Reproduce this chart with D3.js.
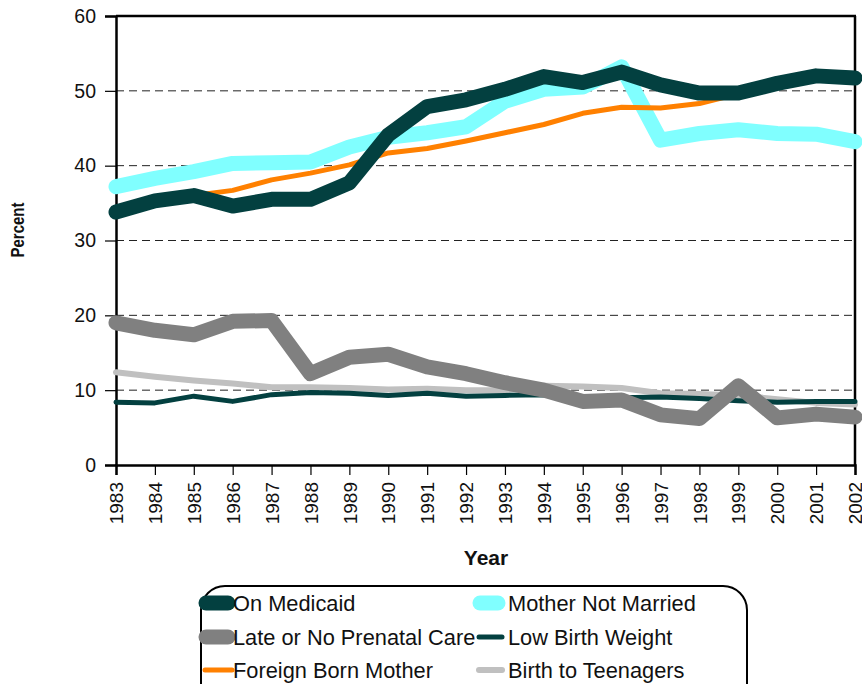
<!DOCTYPE html>
<html><head><meta charset="utf-8">
<script src="https://cdn.jsdelivr.net/npm/d3@7"></script>
<style>
html,body{margin:0;padding:0;background:#fff;}
svg{display:block;font-family:"Liberation Sans",Arial,sans-serif;}
</style></head>
<body>
<svg id="chart" width="862" height="684"></svg>
<script>
const years = [1983,1984,1985,1986,1987,1988,1989,1990,1991,1992,1993,1994,1995,1996,1997,1998,1999,2000,2001,2002];
const yTicks = [0,10,20,30,40,50,60];
const onMedicaid     = [33.8,35.3,36.0,34.6,35.5,35.5,37.7,44.1,47.9,48.8,50.2,51.9,51.1,52.5,50.8,49.7,49.7,51.0,52.0,51.7];
const notMarried     = [37.2,38.3,39.2,40.3,40.4,40.5,42.5,43.8,44.4,45.2,48.6,50.2,50.5,53.2,43.4,44.3,44.8,44.3,44.2,43.2];
const prenatal       = [19.0,18.0,17.4,19.2,19.3,12.2,14.4,14.8,13.1,12.2,11.0,10.0,8.5,8.7,6.7,6.2,10.6,6.3,6.8,6.4];
const lowBirthWeight = [8.4,8.3,9.2,8.5,9.4,9.7,9.6,9.3,9.6,9.2,9.3,9.4,9.1,9.0,9.1,8.9,8.6,8.4,8.5,8.5];
const foreignBorn    = [34.0,35.4,36.0,36.7,38.1,39.0,40.1,41.7,42.3,43.3,44.4,45.5,47.0,47.8,47.7,48.3,49.6,50.6,51.6,51.5];
const teenagers      = [12.4,11.8,11.3,10.9,10.4,10.4,10.3,10.1,10.2,10.0,10.0,10.6,10.5,10.3,9.6,9.5,9.3,8.8,8.3,8.1];
const seriesNames = ["On Medicaid","Mother Not Married","Late or No Prenatal Care","Low Birth Weight","Foreign Born Mother","Birth to Teenagers"];

const series = [
  {name:seriesNames[0], values:onMedicaid,     color:"#034040", width:15},
  {name:seriesNames[1], values:notMarried,     color:"#80ffff", width:15},
  {name:seriesNames[2], values:prenatal,       color:"#808080", width:15},
  {name:seriesNames[3], values:lowBirthWeight, color:"#034040", width:5},
  {name:seriesNames[4], values:foreignBorn,    color:"#ff8000", width:5},
  {name:seriesNames[5], values:teenagers,      color:"#c0c0c0", width:6}
];

const svg = d3.select("#chart");
const x = d3.scaleLinear().domain([1983,2002]).range([116,855]);
const y = d3.scaleLinear().domain([0,60]).range([465,16]);

// gridlines
svg.append("g").selectAll("line").data(yTicks.filter(t=>t>0 && t<60)).join("line")
  .attr("x1",x(1983)).attr("x2",x(2002)).attr("y1",d=>y(d)).attr("y2",d=>y(d))
  .attr("stroke","#222").attr("stroke-width",1).attr("stroke-dasharray","8,5");

// frame top and right
svg.append("line").attr("x1",x(1983)).attr("x2",x(2002)+1).attr("y1",y(60)).attr("y2",y(60)).attr("stroke","#000").attr("stroke-width",2.5);
svg.append("line").attr("x1",x(2002)).attr("x2",x(2002)).attr("y1",y(60)).attr("y2",y(0)).attr("stroke","#000").attr("stroke-width",2.5);

// axes
const yAxis = d3.axisLeft(y).tickValues(yTicks).tickSize(11).tickPadding(9).tickFormat(d3.format("d"));
const gy = svg.append("g").attr("transform",`translate(${x(1983)},0)`).call(yAxis);
gy.select(".domain").attr("stroke","#000").attr("stroke-width",2.5);
gy.selectAll(".tick line").attr("stroke","#000").attr("stroke-width",1.2);
gy.selectAll(".tick text").attr("font-size",19.5).attr("fill","#111").attr("font-family","Liberation Sans, Arial, sans-serif");

const xAxis = d3.axisBottom(x).tickValues(years).tickSize(10).tickFormat(d3.format("d"));
const gx = svg.append("g").attr("transform",`translate(0,${y(0)})`).call(xAxis);
gx.select(".domain").attr("stroke","#000").attr("stroke-width",2.5);
gx.selectAll(".tick line").attr("stroke","#000").attr("stroke-width",1.2);
gx.selectAll(".tick text").attr("font-size",19).attr("fill","#111").attr("font-family","Liberation Sans, Arial, sans-serif")
  .attr("text-anchor","end").attr("transform","translate(0,17) rotate(-90)").attr("x",0).attr("y",0).attr("dy","0.35em");

// lines (drawn so that thick dark is on top)
const drawOrder = [5,3,2,1,4,0];
const line = d3.line().x((d,i)=>x(years[i])).y(d=>y(d));
svg.append("g").selectAll("path").data(drawOrder.map(i=>series[i])).join("path")
  .attr("d",d=>line(d.values)).attr("fill","none")
  .attr("stroke",d=>d.color).attr("stroke-width",d=>d.width)
  .attr("stroke-linejoin","round").attr("stroke-linecap","round");

// axis titles
svg.append("text").attr("transform","translate(24,230) rotate(-90)").attr("text-anchor","middle")
  .attr("font-size",19).attr("font-weight","bold").attr("fill","#111")
  .attr("textLength",55).attr("lengthAdjust","spacingAndGlyphs").text("Percent");
svg.append("text").attr("x",486).attr("y",565).attr("text-anchor","middle")
  .attr("font-size",21).attr("font-weight","bold").attr("fill","#111").text("Year");

// legend
const lg = svg.append("g");
lg.append("rect").attr("x",201).attr("y",586).attr("width",546).attr("height",130).attr("rx",24)
  .attr("fill","#fff").attr("stroke","#000").attr("stroke-width",2);
const rowsY = [603,637,670];
const colSw = [[206,228],[480,498]];
const colTx = [233,508];
series.forEach((s,i)=>{
  const col = i%2, row = Math.floor(i/2);
  const g = lg.append("g");
  const thick = s.width>=10;
  const x1 = thick ? colSw[col][0] : colSw[col][0]-1;
  const x2 = thick ? colSw[col][1] : colSw[col][1]+4;
  g.append("line").attr("x1",x1).attr("x2",x2).attr("y1",rowsY[row]).attr("y2",rowsY[row])
    .attr("stroke",s.color).attr("stroke-width",s.width).attr("stroke-linecap","round");
  g.append("text").attr("x",colTx[col]).attr("y",rowsY[row]).attr("dy","0.36em")
    .attr("font-size",21.8).attr("fill","#111").text(s.name);
});
</script>
</body></html>
